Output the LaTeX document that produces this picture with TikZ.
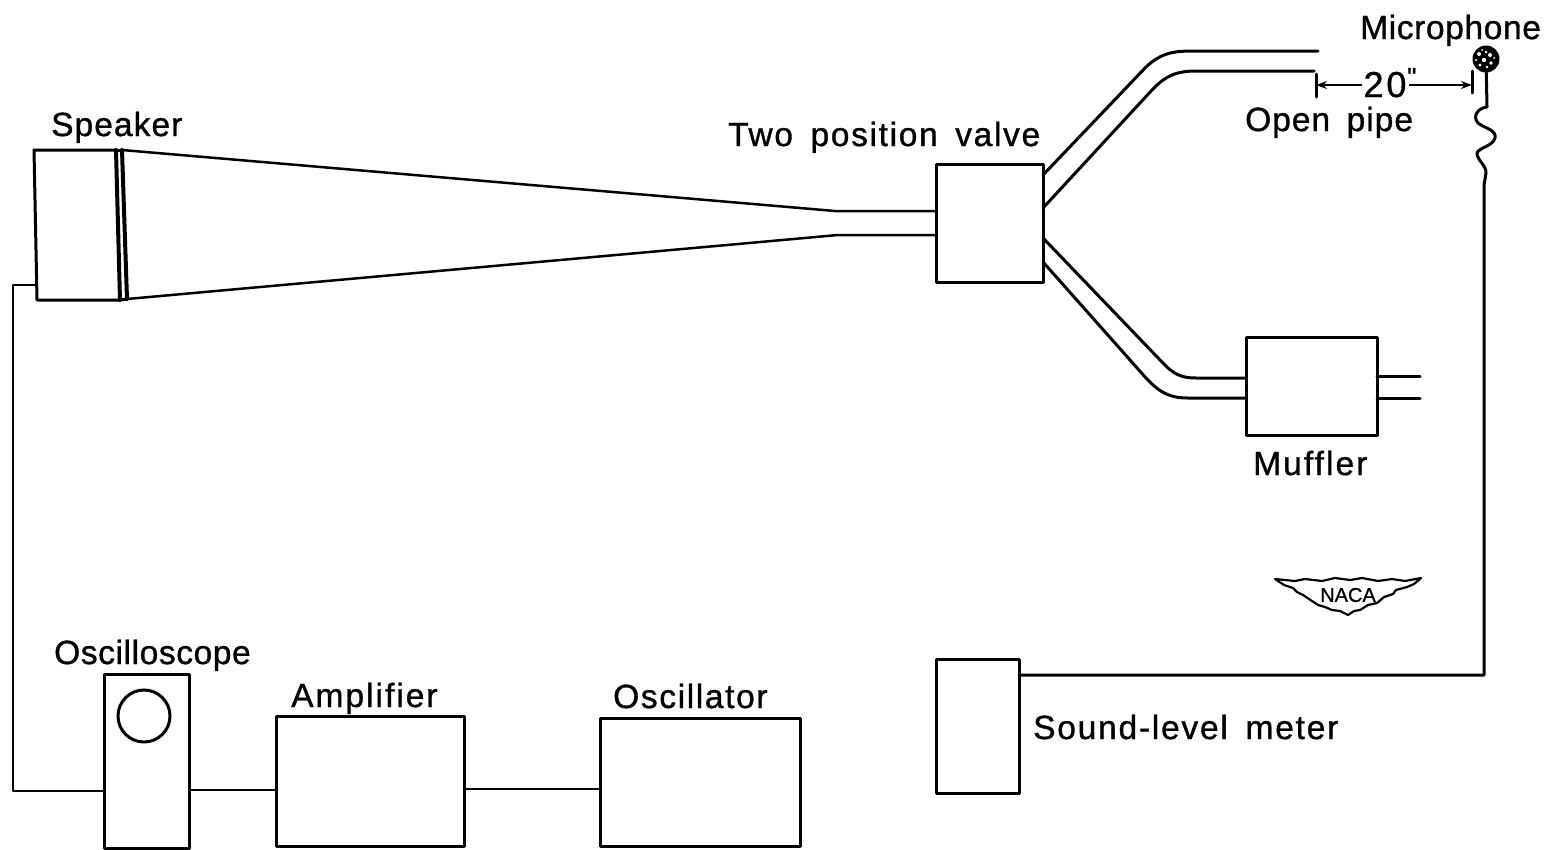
\documentclass[tikz,border=0pt]{standalone}
\usepackage{fontspec}
\newfontfamily\lf[FakeBold=1,WordSpace=1.6]{Liberation Sans}
\usetikzlibrary{arrows.meta}
\newcommand{\spaced}[2]{\addfontfeatures{LetterSpace=#1}#2}
\tikzset{
  line/.style={line width=3pt,draw=black,line join=round,line cap=round},
  heavy line/.style={line width=4pt,draw=black,line join=round,line cap=round},
  thin line/.style={line width=2.5pt,draw=black,line join=round,line cap=round},
  box/.style={line,rectangle,inner sep=0pt,outer sep=0pt,anchor=north west},
  lab/.style={inner sep=0pt,anchor=base west,font=\lf\fontsize{33.5}{36}\selectfont,text=black},
  dim/.style={line width=1.5pt,draw=black,-{Stealth[length=11pt,width=8pt]}},
}
\begin{document}
\begin{tikzpicture}[x=1pt,y=-1pt]
\useasboundingbox (0,0) rectangle (1544,849);
% boxes
\node[box,minimum width=107pt,minimum height=118pt] (valve) at (936,164) {};
\node[box,minimum width=131pt,minimum height=98pt] (muffler) at (1246,337) {};
\node[box,minimum width=83pt,minimum height=134pt] (meter) at (936,659) {};
\node[box,minimum width=85pt,minimum height=174pt] (scope) at (104,674) {};
\node[box,minimum width=188pt,minimum height=130pt] (amp) at (276,716) {};
\node[box,minimum width=200pt,minimum height=128pt] (osc) at (600,718) {};
\node[line,circle,inner sep=0pt,outer sep=0pt,minimum size=52pt] (screen) at (144,716) {};
% speaker
\coordinate (sa) at (34,150); \coordinate (sb) at (116,150);
\coordinate (sc) at (120,300); \coordinate (sd) at (37,300);
\coordinate (se) at (122,150); \coordinate (sf) at (127,299);
\draw[line] (sb) -- (sa) -- (sd) -- (sc);
\draw[heavy line] (sb) -- (sc);
\draw[line] (sb) -- (se);
\draw[line] (sc) -- (sf);
\draw[heavy line] (se) -- (sf);
% horn
\coordinate (h1) at (835,211); \coordinate (h2) at (838,235);
\draw[thin line] (se) -- (h1) -- (936,211);
\draw[thin line] (sf) -- (h2) -- (936,235);
% open pipe
\coordinate (p1) at (1318,51); \coordinate (p2) at (1314,71);
\draw[line] (1043,175) -- (1146,67) .. controls (1162,52) and (1175,51) .. (1195,51) -- (p1);
\draw[line] (1043,208) -- (1152,90) .. controls (1168,73) and (1180,71) .. (1198,71) -- (p2);
% muffler pipes
\draw[line] (1043,238) -- (1162,362) .. controls (1174,375) and (1182,378) .. (1196,378) -- (1246,378);
\draw[line] (1043,262) -- (1146,378) .. controls (1160,393) and (1170,398) .. (1188,398) -- (1246,398);
\draw[line] (1377,376) -- (1420,376);
\draw[line] (1377,398) -- (1420,398);
% wires
\coordinate (w1) at (35,285); \coordinate (w2) at (13,285); \coordinate (w3) at (13,791);
\draw[thin line] (w1) -- (w2) -- (w3) -- (104,791);
\draw[thin line] (189,790) -- (276,790);
\draw[thin line] (464,789) -- (600,789);
% microphone
\node[circle,fill=black,inner sep=0pt,minimum size=27pt] (mic) at (1486,59) {};
\fill[white] (1479,54) circle (2) (1484,60) circle (2.2) (1490,55) circle (2) (1480,65) circle (1.6) (1491,63) circle (1.8) (1486,52) circle (1.3) (1476,60) circle (1.2) (1487,67) circle (1.3) (1482,50) circle (1) (1494,58) circle (1);
\coordinate (m1) at (1487,107);
\draw[line] (mic) -- (m1) .. controls (1478,108) and (1472,116) .. (1478,123)
  .. controls (1484,128) and (1497,130) .. (1495,138)
  .. controls (1493,147) and (1475,148) .. (1477,155)
  .. controls (1479,162) and (1486,165) .. (1486,173) -- (1484,185) -- (1484,675) -- (1019,675);
% dimension
\coordinate (d1) at (1316,85); \coordinate (d2) at (1472,85);
\draw[line] (1316,74) -- (1316,97);
\draw[line] (1472,71) -- (1472,93);
\node[inner sep=0pt,anchor=base,font=\lf\fontsize{36}{38}\selectfont] (twenty) at (1385,97) {\spaced{8}{20}};
\node[inner sep=0pt,anchor=base west,font=\lf\fontsize{26}{28}\selectfont] (inch) at (1407,86) {"};
\coordinate (tw) at (1362,85); \coordinate (te) at (1409,85);
\draw[dim] (tw) -- (d1);
\draw[dim] (te) -- (d2);
% labels
\node[lab] (l1) at (51,136) {\spaced{3.2}{Speaker}};
\node[lab] (l2) at (728,146) {\spaced{5}{Two position valve}};
\node[lab] (l3) at (1360,39) {\spaced{1.9}{Microphone}};
\node[lab] (l4) at (1245,131) {\spaced{3}{Open pipe}};
\node[lab] (l5) at (1253,475) {\spaced{6.2}{Muffler}};
\node[lab] (l6) at (54,664) {\spaced{1.8}{Oscilloscope}};
\node[lab] (l7) at (291,707) {\spaced{6}{Amplifier}};
\node[lab] (l8) at (613,708) {\spaced{4.9}{Oscillator}};
\node[lab] (l9) at (1033,739) {\spaced{5.3}{Sound-level meter}};
% NACA wings
\draw[line width=2.2pt,line join=round] (1275,579) -- (1295,581) -- (1305,579) -- (1322,581) -- (1335,578) -- (1350,580) -- (1362,578) -- (1378,581) -- (1392,579) -- (1405,581) -- (1421,578)
 -- (1414,584) -- (1407,587) -- (1396,590) -- (1393,594) -- (1384,597) -- (1377,603) -- (1368,605) -- (1360,610) -- (1354,611) -- (1348,615) -- (1340,611) -- (1332,610) -- (1325,607) -- (1318,605) -- (1312,601) -- (1303,595) -- (1297,592) -- (1293,588) -- (1284,585) -- cycle;
\node[inner sep=0pt,font=\lf\fontsize{20}{22}\selectfont] (naca) at (1348,595) {NACA};
\end{tikzpicture}
\end{document}
